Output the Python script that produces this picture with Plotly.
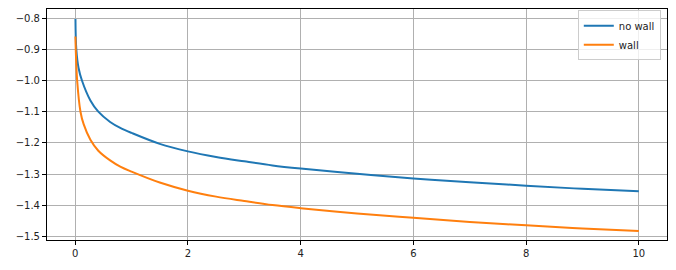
import plotly.graph_objects as go

x_no_wall = [0.005, 0.02, 0.06, 0.12, 0.27, 0.41, 0.62, 0.8, 1.0, 1.5, 2.0, 2.5, 3.0, 3.5, 4.0, 5.0, 6.0, 7.0, 8.0, 9.0, 10.0]
no_wall = [-0.803, -0.90, -0.96, -1.0, -1.064, -1.1, -1.133, -1.152, -1.168, -1.203, -1.227,
           -1.245, -1.259, -1.272, -1.282, -1.299, -1.314, -1.326, -1.337, -1.347, -1.355]
x_wall = [0.005, 0.01, 0.035, 0.094, 0.15, 0.27, 0.41, 0.62, 0.8, 1.0, 1.5, 2.0, 2.5, 3.0, 3.5, 4.0, 5.0, 6.0, 7.0, 8.0, 9.0, 10.0]
wall = [-0.859, -0.9, -1.0, -1.1, -1.14, -1.19, -1.225, -1.256, -1.276, -1.292, -1.327, -1.353,
        -1.372, -1.386, -1.399, -1.409, -1.426, -1.440, -1.453, -1.464, -1.474, -1.482]
x_ticks = [0, 2, 4, 6, 8, 10]
y_ticks = [-1.5, -1.4, -1.3, -1.2, -1.1, -1.0, -0.9, -0.8]

fig = go.Figure()
fig.add_trace(go.Scatter(x=x_no_wall, y=no_wall, mode="lines", name="no wall",
                         line=dict(color="#1f77b4", width=2, shape="spline", smoothing=1.0)))
fig.add_trace(go.Scatter(x=x_wall, y=wall, mode="lines", name="wall",
                         line=dict(color="#ff7f0e", width=2, shape="spline", smoothing=1.0)))

axis_common = dict(showline=True, linecolor="black", linewidth=1, mirror=True,
                   ticks="outside", ticklen=4, tickcolor="black", tickwidth=1,
                   showgrid=True, gridcolor="#b0b0b0", gridwidth=0.8, zeroline=False,
                   tickfont=dict(family="DejaVu Sans", size=10, color="#222222"))
fig.update_xaxes(range=[-0.5, 10.5], tickvals=x_ticks, ticktext=[str(v) for v in x_ticks], **axis_common)
fig.update_yaxes(range=[-1.511, -0.771], tickvals=y_ticks, tickformat=".1f", **axis_common)

fig.update_layout(
    width=676, height=270,
    margin=dict(l=47, r=9, t=9, b=30),
    paper_bgcolor="white", plot_bgcolor="white",
    showlegend=True,
    legend=dict(x=0.99, y=0.995, xanchor="right", yanchor="top",
                bgcolor="rgba(255,255,255,0.8)", bordercolor="#cccccc", borderwidth=1,
                font=dict(family="DejaVu Sans", size=10, color="#222222"),
                itemwidth=30, tracegroupgap=0),
)
fig.write_html("out.html")
